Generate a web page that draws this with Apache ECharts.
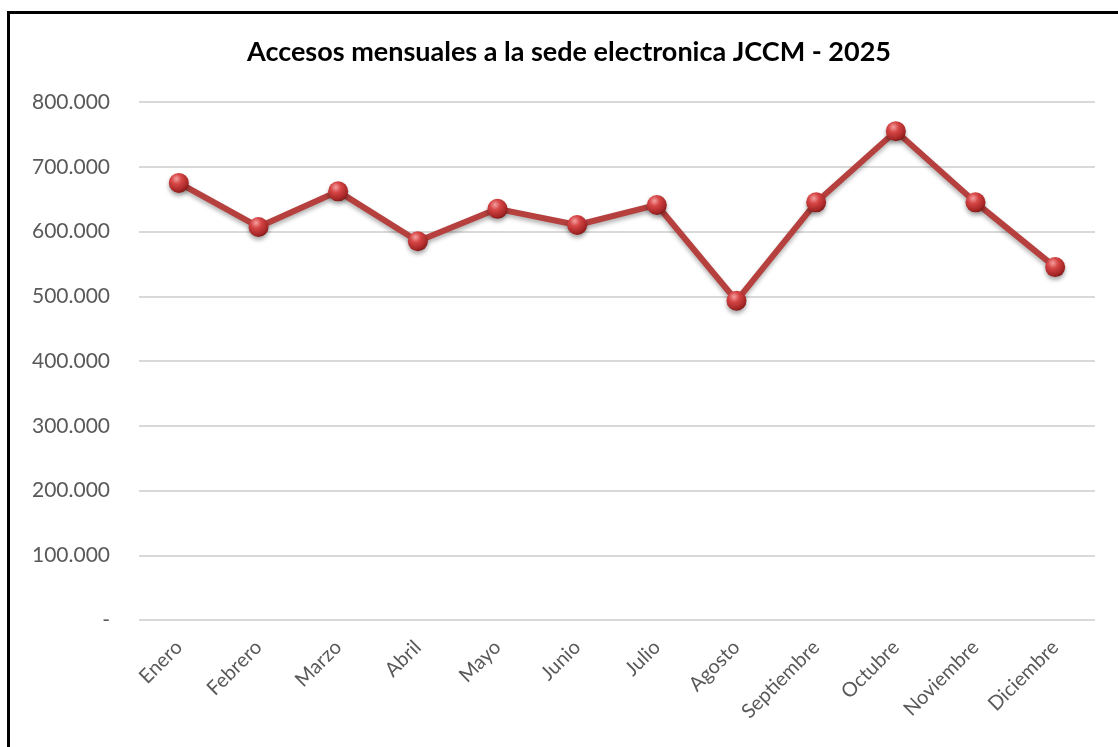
<!DOCTYPE html>
<html>
<head>
<meta charset="utf-8">
<script src="https://cdn.jsdelivr.net/npm/echarts@6/dist/echarts.min.js"></script>
<style>
html,body{margin:0;padding:0;background:#fff;}
#chart{width:1118px;height:747px;}
</style>
</head>
<body>
<div id="chart"></div>
<script>
const titleText = 'Accesos mensuales a la sede electronica JCCM - 2025';
const months = ['Enero','Febrero','Marzo','Abril','Mayo','Junio','Julio','Agosto','Septiembre','Octubre','Noviembre','Diciembre'];
const accesos = [675000, 607000, 662000, 585000, 635000, 610000, 641000, 493000, 645000, 755000, 645000, 545000];
const yMin = 0, yMax = 800000, yStep = 100000;

function fmt(v){
  if (v === 0) return '-';
  return String(v).replace(/\B(?=(\d{3})+(?!\d))/g, '.');
}

const chart = echarts.init(document.getElementById('chart'), null, {renderer:'canvas'});
chart.setOption({
  backgroundColor:'#ffffff',
  animation:false,
  title:{
    text:titleText, left:564, textAlign:'center', top:34,
    textStyle:{fontFamily:'Lato', fontWeight:'bold', fontSize:27, color:'#000'}
  },
  graphic:[
    {type:'rect', shape:{x:7, y:11, width:3, height:740}, style:{fill:'#000'}},
    {type:'rect', shape:{x:7, y:11, width:1115, height:3}, style:{fill:'#000'}}
  ],
  grid:{left:139, right:23, top:102, bottom:127, containLabel:false},
  xAxis:{
    type:'category', data:months, boundaryGap:true,
    axisLine:{show:false}, axisTick:{show:false},
    axisLabel:{rotate:45, margin:24, fontFamily:'Lato', fontSize:20, color:'#595959', interval:0}
  },
  yAxis:{
    type:'value', min:yMin, max:yMax, interval:yStep,
    axisLine:{show:false}, axisTick:{show:false},
    splitLine:{lineStyle:{color:'#d9d9d9', width:2}},
    axisLabel:{formatter:fmt, margin:29, fontFamily:'Lato', fontSize:21, color:'#595959'}
  },
  series:[{
    type:'line', data:accesos,
    symbol:'circle', symbolSize:20,
    lineStyle:{color:'#b5403d', width:6, shadowColor:'rgba(0,0,0,0.3)', shadowBlur:4, shadowOffsetY:3},
    itemStyle:{
      color:new echarts.graphic.RadialGradient(0.38,0.3,0.75,[
        {offset:0, color:'#f4a0a0'},
        {offset:0.35, color:'#d64545'},
        {offset:0.8, color:'#a52626'},
        {offset:1, color:'#7a1515'}
      ]),
      shadowColor:'rgba(0,0,0,0.35)', shadowBlur:4, shadowOffsetY:3
    }
  }]
});
</script>
</body>
</html>
